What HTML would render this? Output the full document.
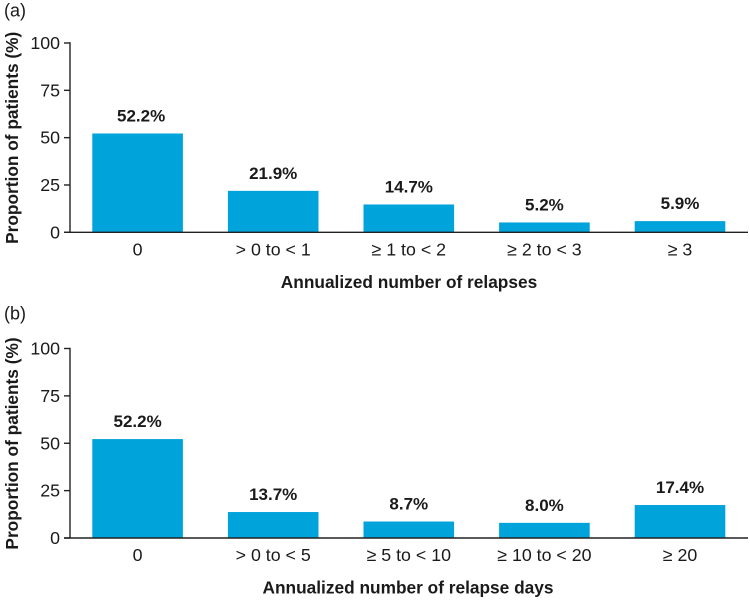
<!DOCTYPE html>
<html lang="en">
<head>
<meta charset="utf-8">
<title>Annualized relapses and relapse days</title>
<style>
  html, body { margin: 0; padding: 0; background: #fff; width: 750px; height: 600px; overflow: hidden; }
  svg { display: block; font-family: "Liberation Sans", "DejaVu Sans", sans-serif; }
  text { fill: #1a1a1a; }
</style>
</head>
<body>
<svg id="chart" width="750" height="600" viewBox="0 0 750 600" xmlns="http://www.w3.org/2000/svg"></svg>
<script>
const yTicks = [0, 25, 50, 75, 100];

const categoriesA = ["0", "> 0 to < 1", "≥ 1 to < 2", "≥ 2 to < 3", "≥ 3"];
const valuesA = [52.2, 21.9, 14.7, 5.2, 5.9];
const printedA = ["52.2%", "21.9%", "14.7%", "5.2%", "5.9%"];

const categoriesB = ["0", "> 0 to < 5", "≥ 5 to < 10", "≥ 10 to < 20", "≥ 20"];
const valuesB = [52.2, 13.7, 8.7, 8.0, 17.4];
const printedB = ["52.2%", "13.7%", "8.7%", "8.0%", "17.4%"];

const svg = document.getElementById('chart');
const NS = 'http://www.w3.org/2000/svg';

function make(tag, attrs, text) {
  const el = document.createElementNS(NS, tag);
  for (const k in attrs) el.setAttribute(k, attrs[k]);
  if (text !== undefined) el.textContent = text;
  svg.appendChild(el);
  return el;
}

function drawPanel(p, categories, values, printed) {
  const yScale = v => p.y0 + (p.y100 - p.y0) * v / 100;
  const xCenter = i => 137.6 + i * 135.6;
  const barWidth = 90.6;

  const tag = make('text', { x: 4, y: p.tagY, 'font-size': 18 }, p.tag);
  
  

  values.forEach((v, i) => {
    const bar = make('rect', {
      x: xCenter(i) - barWidth / 2,
      y: yScale(v),
      width: barWidth,
      height: p.y0 - yScale(v),
      fill: '#00a3da'
    });
    
    

    const nudge = i === 0 ? p.firstLabelNudge : 0;
    const label = make('text', {
      x: xCenter(i) + nudge,
      y: yScale(v) - 12,
      'text-anchor': 'middle',
      'font-size': 17,
      'font-weight': 'bold'
    }, printed[i]);
    
    

    const cat = make('text', {
      x: xCenter(i),
      y: p.y0 + 23,
      'text-anchor': 'middle',
      'font-size': 17.8
    }, categories[i]);
    
    
  });

  const yAxis = make('line', { x1: 70, x2: 70, y1: yScale(100) - 0.7, y2: p.y0, stroke: '#222', 'stroke-width': 1.4 });
  
  

  const xAxis = make('line', { x1: 64, x2: 748, y1: p.y0, y2: p.y0, stroke: '#222', 'stroke-width': 1.4 });
  
  

  yTicks.forEach(t => {
    const tick = make('line', { x1: 64, x2: 70, y1: yScale(t), y2: yScale(t), stroke: '#222', 'stroke-width': 1.4 });
    
    

    const tl = make('text', {
      x: 60,
      y: yScale(t) + 6,
      'text-anchor': 'end',
      'font-size': 17.8
    }, String(t));
    
    
  });

  const yTitle = make('text', {
    transform: 'translate(18 ' + (p.y0 - 94.5) + ') rotate(-90)',
    'text-anchor': 'middle',
    'font-size': 17.3,
    'font-weight': 'bold'
  }, 'Proportion of patients (%)');
  
  

  const xTitle = make('text', {
    x: p.titleX,
    y: p.y0 + 55.5,
    'text-anchor': 'middle',
    'font-size': 17.3,
    'font-weight': 'bold'
  }, p.title);
  
  
}

drawPanel({ id: 'a', tag: '(a)', tagY: 16.5, y0: 232.3, y100: 43, titleX: 409, title: 'Annualized number of relapses', firstLabelNudge: 3.5 },
  categoriesA, valuesA, printedA);
drawPanel({ id: 'b', tag: '(b)', tagY: 319.5, y0: 538, y100: 348.5, titleX: 408, title: 'Annualized number of relapse days', firstLabelNudge: 0 },
  categoriesB, valuesB, printedB);
</script>
</body>
</html>
